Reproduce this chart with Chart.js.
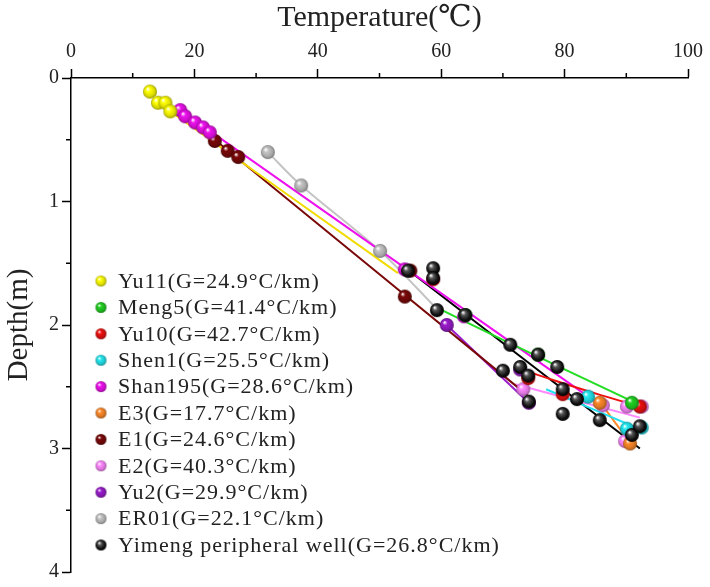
<!DOCTYPE html>
<html>
<head>
<meta charset="utf-8">
<script src="https://cdn.jsdelivr.net/npm/chart.js@4.4.1/dist/chart.umd.min.js"></script>
<style>
  html, body { margin: 0; padding: 0; background: #fff; }
  #wrap { width: 710px; height: 587px; }
</style>
</head>
<body>
<div id="wrap"><canvas id="chart" width="710" height="587"></canvas></div>
<script>
// tick labels
const tempTicks = [0, 20, 40, 60, 80, 100];
const depthTicks = [0, 1, 2, 3, 4];

// well names (legend order)
const wellNames = [
  "Yu11(G=24.9°C/km)",
  "Meng5(G=41.4°C/km)",
  "Yu10(G=42.7°C/km)",
  "Shen1(G=25.5°C/km)",
  "Shan195(G=28.6°C/km)",
  "E3(G=17.7°C/km)",
  "E1(G=24.6°C/km)",
  "E2(G=40.3°C/km)",
  "Yu2(G=29.9°C/km)",
  "ER01(G=22.1°C/km)",
  "Yimeng peripheral well(G=26.8°C/km)"
];

// measured points [temperature, depth]
const yu11Pts = [[12.8, 0.11], [14.1, 0.20], [15.3, 0.20], [16.1, 0.27]];
const meng5Pts = [[63.9, 1.92], [75.7, 2.24], [90.9, 2.63]];
const yu10Pts = [[58.7, 1.63], [74.1, 2.43], [79.7, 2.56], [92.2, 2.66]];
const shen1Pts = [[83.8, 2.58], [90.1, 2.84], [92.5, 2.83]];
const shan195Pts = [[17.7, 0.26], [18.5, 0.31], [20.1, 0.36], [21.4, 0.40], [22.5, 0.44], [54.1, 1.55], [63.7, 1.93]];
const e3Pts = [[85.7, 2.63], [90.6, 2.96]];
const e1Pts = [[23.3, 0.51], [25.4, 0.59], [27.1, 0.64], [55.0, 1.56], [54.1, 1.77]];
const e2Pts = [[73.3, 2.52], [86.2, 2.65], [90.1, 2.66], [92.5, 2.66], [89.8, 2.94]];
const yu2Pts = [[60.9, 2.00], [72.8, 2.36], [74.2, 2.63]];
const er01Pts = [[31.9, 0.60], [37.3, 0.87], [50.1, 1.40]];
const yimengPts = [[54.6, 1.56], [58.7, 1.54], [58.7, 1.62], [59.3, 1.88], [63.9, 1.92], [71.2, 2.16],
  [75.7, 2.24], [78.8, 2.34], [70.0, 2.37], [72.8, 2.34], [74.1, 2.41], [74.2, 2.62], [79.7, 2.52],
  [82.0, 2.60], [79.7, 2.72], [85.7, 2.77], [90.9, 2.89], [92.2, 2.82]];

// fitted / connecting lines [temperature, depth]
const yu11Fit = [[16.1, 0.27], [53.0, 1.58]];
const meng5Fit = [[59.3, 1.86], [70.0, 2.12], [80.0, 2.36], [91.5, 2.63]];
const yu10Fit = [[73.0, 2.36], [79.0, 2.46], [86.0, 2.57], [92.2, 2.66]];
const shen1Fit = [[77.0, 2.52], [92.5, 2.85]];
const shan195Fit = [[17.7, 0.26], [85.0, 2.62]];
const e3Fit = [[85.4, 2.60], [91.0, 2.98]];
const e1Fit = [[23.3, 0.50], [74.0, 2.57]];
const e2Fit = [[72.0, 2.48], [92.2, 2.75]];
const yu2Fit = [[60.9, 2.00], [74.2, 2.63]];
const er01Fit = [[31.9, 0.60], [37.3, 0.87], [50.1, 1.40], [59.3, 1.87]];
const yimengFit = [[54.0, 1.53], [92.2, 3.00]];

const allPts = [yu11Pts, meng5Pts, yu10Pts, shen1Pts, shan195Pts, e3Pts, e1Pts, e2Pts, yu2Pts, er01Pts, yimengPts];
const allFits = [yu11Fit, meng5Fit, yu10Fit, shen1Fit, shan195Fit, e3Fit, e1Fit, e2Fit, yu2Fit, er01Fit, yimengFit];

const ballColors = ["#ffff00", "#22d022", "#ee1111", "#22e8f0", "#ee11ee", "#ff8a2a", "#7a0808", "#ff88ff", "#9a1ccc", "#c4c4c4", "#000000"];
const lineColors = ["#f2dc00", "#22dd22", "#ee1111", "#22e0f0", "#ee11ee", "#ff8a2a", "#7a0808", "#ff88ff", "#9a1ccc", "#c4c4c4", "#000000"];

const FONT = "'Liberation Serif', 'DejaVu Serif', serif";

function shade(hex, f) {
  const n = parseInt(hex.slice(1), 16);
  const r = Math.round(((n >> 16) & 255) * f), g = Math.round(((n >> 8) & 255) * f), b = Math.round((n & 255) * f);
  return "rgb(" + r + "," + g + "," + b + ")";
}

// glossy ball used as point style
function makeBall(color, r) {
  const c = document.createElement("canvas");
  c.width = c.height = 2 * r + 2;
  const g = c.getContext("2d");
  const cx = r + 1;
  const grad = g.createRadialGradient(cx - r * 0.35, cx - r * 0.4, r * 0.05, cx, cx, r);
  grad.addColorStop(0, "#ffffff");
  grad.addColorStop(0.3, color === "#000000" ? "#555555" : color);
  grad.addColorStop(0.75, color === "#000000" ? "#111111" : shade(color, 0.85));
  grad.addColorStop(1, color === "#000000" ? "#000000" : shade(color, 0.6));
  g.fillStyle = grad;
  g.beginPath();
  g.arc(cx, cx, r, 0, Math.PI * 2);
  g.fill();
  return c;
}

const bigBalls = ballColors.map(c => makeBall(c, 7));
const smallBalls = ballColors.map(c => makeBall(c, 5.5));

const toXY = arr => arr.map(p => ({ x: p[0], y: p[1] }));

const datasets = [];
wellNames.forEach((name, i) => {
  datasets.push({
    label: name,
    data: toXY(allPts[i]),
    showLine: false,
    pointStyle: bigBalls[i],
    pointRadius: 7,
    order: i === 10 ? 0 : 1
  });
  datasets.push({
    label: name + " fit",
    data: toXY(allFits[i]),
    showLine: true,
    borderColor: lineColors[i],
    borderWidth: 2,
    pointRadius: 0,
    tension: 0.3,
    order: 2
  });
});

// minor ticks between the major ones
const minorTicks = {
  id: "minorTicks",
  afterDraw(chart) {
    const ctx = chart.ctx;
    const area = chart.chartArea;
    const xs = chart.scales.x, ys = chart.scales.y;
    ctx.save();
    ctx.strokeStyle = "#000";
    ctx.lineWidth = 1.5;
    for (let i = 0; i < tempTicks.length - 1; i++) {
      const px = xs.getPixelForValue((tempTicks[i] + tempTicks[i + 1]) / 2);
      ctx.beginPath(); ctx.moveTo(px, area.top); ctx.lineTo(px, area.top - 5); ctx.stroke();
    }
    for (let i = 0; i < depthTicks.length - 1; i++) {
      const py = ys.getPixelForValue((depthTicks[i] + depthTicks[i + 1]) / 2);
      ctx.beginPath(); ctx.moveTo(area.left, py); ctx.lineTo(area.left - 5, py); ctx.stroke();
    }
    ctx.restore();
  }
};

// legend inside plot, lower left
const ballLegend = {
  id: "ballLegend",
  afterDraw(chart) {
    const ctx = chart.ctx;
    ctx.save();
    ctx.font = "22px " + FONT;
    ctx.fillStyle = "#222";
    ctx.textBaseline = "middle";
    if ("letterSpacing" in ctx) ctx.letterSpacing = "1px";
    wellNames.forEach((name, i) => {
      const y = 281 + i * 26.4;
      const img = smallBalls[i];
      ctx.drawImage(img, 101 - img.width / 2, y - img.height / 2);
      ctx.fillText(name, 118, y + 1);
    });
    ctx.restore();
  }
};

new Chart(document.getElementById("chart"), {
  type: "scatter",
  data: { datasets },
  plugins: [minorTicks, ballLegend],
  options: {
    responsive: false,
    animation: false,
    layout: { padding: { top: 0, left: 0, right: 22, bottom: 10 } },
    plugins: { legend: { display: false }, tooltip: { enabled: false } },
    scales: {
      x: {
        type: "linear",
        position: "top",
        min: 0,
        max: 100,
        afterBuildTicks: s => { s.ticks = tempTicks.map(v => ({ value: v })); },
        afterFit: s => { s.height = 78; },
        ticks: { color: "#222", font: { family: FONT, size: 20 }, padding: 5 },
        grid: { drawOnChartArea: false, tickLength: 9, tickColor: "#000", tickWidth: 1.5 },
        border: { display: true, color: "#000", width: 1.5 },
        title: { display: true, text: "Temperature(℃)", color: "#222", font: { family: FONT, size: 30 }, padding: { top: 0, bottom: 0 } }
      },
      y: {
        type: "linear",
        reverse: true,
        min: 0,
        max: 4,
        afterBuildTicks: s => { s.ticks = depthTicks.map(v => ({ value: v })); },
        afterFit: s => { s.width = 71; },
        ticks: { color: "#222", font: { family: FONT, size: 20 }, padding: 3 },
        grid: { drawOnChartArea: false, tickLength: 9, tickColor: "#000", tickWidth: 1.5 },
        border: { display: true, color: "#000", width: 1.5 },
        title: { display: true, text: "Depth(m)", color: "#222", font: { family: FONT, size: 29 }, padding: { top: 2, bottom: 0 } }
      }
    }
  }
});
</script>
</body>
</html>
